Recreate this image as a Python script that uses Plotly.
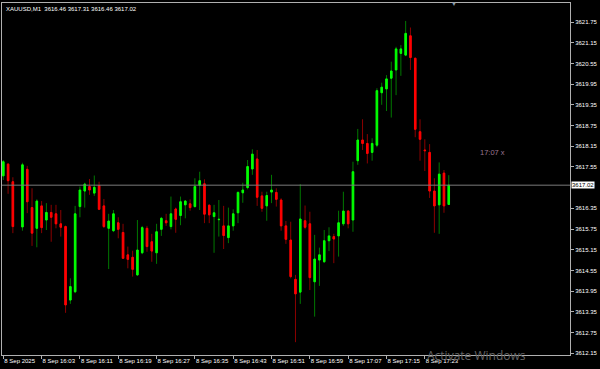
import plotly.graph_objects as go

# ---- data (XAUUSD M1, bar index 0 = 15:55) ----
opens = [3617.29, 3617.63, 3617.12, None, 3615.81, 3617.48, 3616.37, 3615.77, 3616.42, 3616.01,
         3616.23, 3616.19, 3615.90, 3615.82, 3613.69, 3613.93, 3616.40, 3616.85, 3616.98, 3616.79,
         3617.01, 3616.42, 3615.77, 3615.70, 3615.93, 3615.65, 3615.00, 3614.93, 3614.42, 3615.06,
         3615.77, 3615.38, 3615.06, 3615.74, 3615.99, 3615.82, 3616.33, 3616.14, 3616.45, 3616.48,
         3616.40, 3617.02, 3617.06, 3616.44, 3616.11, 3616.02, 3615.84, 3615.50, 3615.84, 3616.22,
         3616.80, 3616.95, 3617.49, 3617.78, 3616.71, 3616.42, 3616.82, 3616.81, 3616.59, 3615.84,
         3615.43, 3614.29, 3613.92, 3615.99, 3615.90, 3614.22, 3614.85, 3614.80, 3615.41, 3615.53,
         3615.55, 3615.90, 3616.27, 3616.01, 3617.73, 3618.33, 3618.23, 3617.97, 3618.18, 3619.70,
         3619.81, 3620.12, 3620.36, 3620.84, 3620.79, 3621.35, 3620.70, 3618.57, 3618.04, 3617.97,
         3616.85, 3616.45, 3617.37, 3616.46]
highs = [3617.75, 3617.66, 3617.25, None, 3617.67, 3617.58, 3616.93, 3616.61, 3616.56, 3616.50,
         3616.45, 3616.45, 3616.30, 3615.85, 3614.32, 3616.42, 3616.98, 3617.09, 3617.20, 3617.30,
         3617.12, 3616.62, 3616.19, 3616.30, 3616.09, 3615.90, 3615.24, 3615.12, 3616.01, 3615.84,
         3615.84, 3615.61, 3615.90, 3616.10, 3616.19, 3616.69, 3616.37, 3616.69, 3616.59, 3616.61,
         3617.22, 3617.41, 3617.19, 3616.46, 3616.45, 3616.59, 3616.42, 3616.37, 3616.32, 3616.84,
         3617.09, 3617.75, 3618.06, 3618.04, 3616.83, 3616.83, 3617.32, 3616.93, 3616.64, 3615.98,
         3615.96, 3614.42, 3617.05, 3616.43, 3616.25, 3615.58, 3615.21, 3615.72, 3615.80, 3615.61,
         3616.28, 3616.83, 3616.30, 3617.70, 3618.65, 3618.93, 3618.50, 3618.38, 3619.83, 3619.99,
         3620.21, 3620.60, 3621.03, 3621.08, 3621.78, 3621.59, 3620.71, 3618.93, 3618.35, 3618.21,
         3617.22, 3617.68, 3617.46, 3617.31]
lows = [3617.17, 3616.77, 3615.63, None, 3615.70, 3616.21, 3615.26, 3615.22, 3615.63, 3615.72,
        3615.38, 3615.77, 3615.53, 3613.32, 3613.58, 3613.89, 3616.09, 3616.37, 3616.74, 3616.71,
        3616.30, 3615.78, 3614.59, 3615.66, 3615.48, 3614.88, 3614.61, 3614.37, 3614.39, 3615.02,
        3615.09, 3614.80, 3614.74, 3615.55, 3615.84, 3615.74, 3615.64, 3615.86, 3616.06, 3616.28,
        3616.37, 3616.30, 3615.92, 3615.92, 3615.06, 3615.53, 3615.17, 3615.34, 3615.70, 3615.92,
        3616.51, 3616.90, 3617.32, 3616.42, 3616.25, 3615.99, 3616.50, 3616.40, 3615.70, 3615.32,
        3614.32, 3612.47, 3613.58, 3615.74, 3613.98, 3613.21, 3614.10, 3614.77, 3615.11, 3614.76,
        3614.95, 3615.84, 3615.77, 3615.67, 3617.61, 3618.04, 3617.65, 3617.73, 3618.12, 3619.35,
        3619.17, 3618.98, 3619.63, 3620.19, 3620.76, 3620.36, 3618.41, 3617.73, 3617.43, 3616.65,
        3615.64, 3615.61, 3616.22, 3616.46]
closes = [3617.70, 3617.15, 3615.82, None, 3617.61, 3616.54, 3615.63, 3616.56, 3615.79, 3616.23,
          3616.09, 3615.90, 3615.80, 3613.55, 3614.08, 3616.19, 3616.88, 3617.05, 3616.88, 3616.96,
          3616.32, 3615.82, 3615.98, 3616.19, 3615.74, 3614.90, 3614.87, 3614.58, 3615.14, 3615.79,
          3615.24, 3615.11, 3615.67, 3616.06, 3615.93, 3616.19, 3616.03, 3616.54, 3616.56, 3616.37,
          3616.98, 3617.15, 3616.18, 3616.16, 3616.22, 3616.03, 3615.56, 3615.84, 3616.19, 3616.81,
          3616.88, 3617.56, 3617.92, 3616.67, 3616.35, 3616.72, 3616.88, 3616.61, 3615.84, 3615.45,
          3614.37, 3613.87, 3616.04, 3615.80, 3614.34, 3614.88, 3615.00, 3615.41, 3615.55, 3615.46,
          3615.93, 3616.27, 3615.90, 3617.41, 3618.33, 3618.23, 3617.94, 3618.23, 3619.76, 3619.86,
          3620.10, 3620.33, 3620.97, 3620.97, 3621.42, 3620.72, 3618.64, 3618.35, 3618.02, 3616.85,
          3616.42, 3617.34, 3616.42, 3617.02]

tick_idx = [0, 8, 16, 24, 32, 40, 48, 56, 64, 72, 80, 88]
tick_labels = ["8 Sep 2025", "8 Sep 16:03", "8 Sep 16:11", "8 Sep 16:19", "8 Sep 16:27",
               "8 Sep 16:35", "8 Sep 16:43", "8 Sep 16:51", "8 Sep 16:59", "8 Sep 17:07",
               "8 Sep 17:15", "8 Sep 17:23"]
price_ticks = [3621.75, 3621.15, 3620.55, 3619.95, 3619.35, 3618.75, 3618.15, 3617.55,
               3616.35, 3615.75, 3615.15, 3614.55, 3613.95, 3613.35, 3612.75, 3612.15]
price_labels = ["3621.75", "3621.15", "3620.55", "3619.95", "3619.35", "3618.75", "3618.15",
                "3617.55", "3616.35", "3615.75", "3615.15", "3614.55", "3613.95", "3613.35",
                "3612.75", "3612.15"]
current_price = 3617.02
header = "XAUUSD,M1  3616.46 3617.31 3616.46 3617.02"
side_note = "17:07 x"

x = list(range(len(opens)))
body_hi = [None if o is None else max(o, c) for o, c in zip(opens, closes)]
body_lo = [None if o is None else min(o, c) for o, c in zip(opens, closes)]

BULL, BEAR = "#00ff00", "#ff0000"
BULL_W, BEAR_W = "#007800", "#8b0000"
FRAME = "#b0b0b0"
FONT = "Liberation Sans, Arial, sans-serif"

fig = go.Figure()
# wicks (dark)
fig.add_trace(go.Candlestick(
    x=x, open=opens, high=highs, low=lows, close=closes,
    increasing=dict(line=dict(color=BULL_W, width=1), fillcolor=BULL_W),
    decreasing=dict(line=dict(color=BEAR_W, width=1), fillcolor=BEAR_W),
    whiskerwidth=0, hoverinfo="skip", showlegend=False))
# bodies (bright)
fig.add_trace(go.Candlestick(
    x=x, open=opens, high=body_hi, low=body_lo, close=closes,
    increasing=dict(line=dict(color=BULL, width=1), fillcolor=BULL),
    decreasing=dict(line=dict(color=BEAR, width=1), fillcolor=BEAR),
    whiskerwidth=0, hoverinfo="skip", showlegend=False))

fig.add_shape(type="line", xref="paper", x0=0, x1=1, yref="y",
              y0=current_price, y1=current_price, line=dict(color="#7a7a7a", width=1))

fig.add_annotation(xref="paper", x=1, xanchor="left", xshift=1, yref="y", y=current_price,
                   text=f"{current_price:.2f}", showarrow=False, bgcolor="#ffffff",
                   font=dict(family=FONT, size=6, color="#000000"), borderpad=0)
fig.add_annotation(xref="paper", x=0, xanchor="left", xshift=2, yref="paper", y=1,
                   yanchor="top", yshift=-1, text=header, showarrow=False,
                   font=dict(family=FONT, size=6, color="#ffffff"))
fig.add_annotation(xref="paper", x=0.889, yref="paper", y=0.574, text=side_note,
                   showarrow=False, font=dict(family=FONT, size=7.5, color="#9a7590"))
fig.add_annotation(xref="paper", x=0.805, yref="paper", y=1, yanchor="middle", yshift=-1,
                   text="▼", showarrow=False, font=dict(size=6, color="#8a9aa8"))
fig.add_annotation(xref="paper", x=0.745, xanchor="left", yref="paper", y=0, yanchor="middle",
                   yshift=0, text="Activate Windows", showarrow=False,
                   font=dict(family="Open Sans, sans-serif", size=12, color="#646464"))
fig.add_annotation(xref="paper", x=0.745, xanchor="left", yref="paper", y=0, yanchor="top",
                   yshift=-9, text="Go to Settings to activate Windows.", showarrow=False,
                   font=dict(family="Open Sans, sans-serif", size=8, color="#555555"))

fig.update_layout(
    width=600, height=369,
    margin=dict(l=2, r=30, t=3, b=14, autoexpand=False),
    paper_bgcolor="#000000", plot_bgcolor="#000000",
    boxgap=0.55,
    font=dict(family=FONT, size=6, color="#ffffff"),
    xaxis=dict(range=[-0.27, 118.31], rangeslider=dict(visible=False), automargin=False,
               showgrid=False, zeroline=False, showline=True, linecolor=FRAME, linewidth=1,
               mirror=True, ticks="outside", ticklen=3, tickcolor=FRAME, tickangle=0,
               tickvals=tick_idx, ticktext=tick_labels, ticklabelposition="outside right",
               tickfont=dict(family=FONT, size=6, color="#ffffff")),
    yaxis=dict(range=[3612.0978, 3622.3007], side="right", automargin=False,
               showgrid=False, zeroline=False, showline=True, linecolor=FRAME, linewidth=1,
               mirror=True, ticks="outside", ticklen=3, tickcolor=FRAME,
               tickvals=price_ticks, ticktext=price_labels,
               tickfont=dict(family=FONT, size=6, color="#ffffff")),
)

fig.write_html("out.html")
